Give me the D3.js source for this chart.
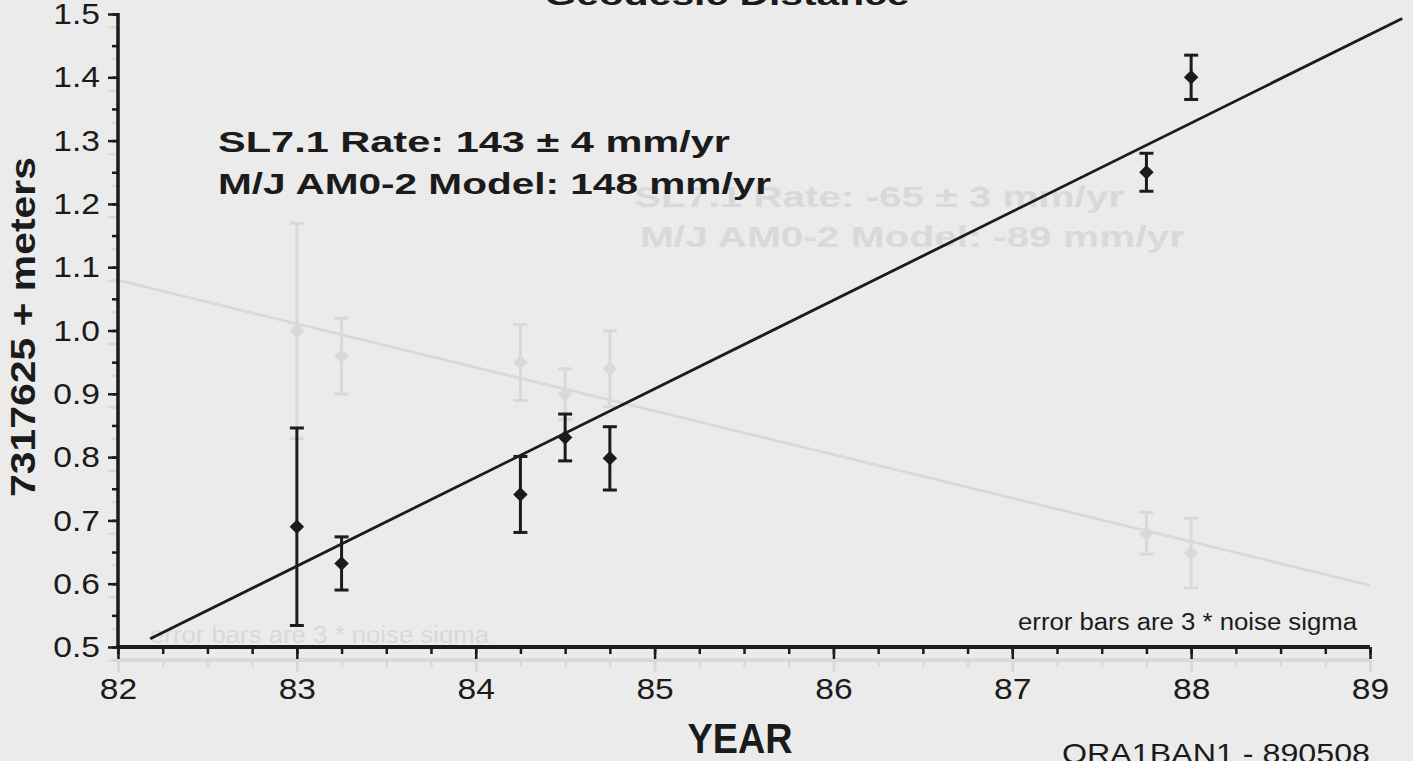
<!DOCTYPE html>
<html lang="en">
<head>
<meta charset="UTF-8">
<title>Geodesic Distance</title>
<script src="https://d3js.org/d3.v7.min.js"></script>
<style>
  body { margin: 0; background: #ebebeb; }
  svg { display: block; font-family: "Liberation Sans", Arial, Helvetica, sans-serif; }
</style>
</head>
<body>
<svg id="chart" width="1413" height="761"></svg>
<script>
// SL7.1 baseline length, observations
const years = [83.0, 83.25, 84.25, 84.5, 84.75, 87.75, 88.0];
const lengths = [0.690, 0.632, 0.741, 0.831, 0.798, 1.250, 1.400];
const errors = [0.156, 0.042, 0.060, 0.037, 0.050, 0.030, 0.035];

// fitted rate line
const fitYears = [82.18, 89.18];
const fitLengths = [0.513, 1.493];

// faint show-through of the chart on the next page
const ghostYears = [83.0, 83.25, 84.25, 84.5, 84.75, 87.75, 88.0];
const ghostLengths = [1.02, 0.98, 0.97, 0.92, 0.96, 0.700, 0.669];
const ghostErrors = [0.17, 0.06, 0.06, 0.04, 0.06, 0.033, 0.055];
const ghostFitYears = [82.0, 89.0];
const ghostFitLengths = [1.10, 0.618];

// axes
const xTicks = [82, 83, 84, 85, 86, 87, 88, 89];
const yTicks = [0.5, 0.6, 0.7, 0.8, 0.9, 1.0, 1.1, 1.2, 1.3, 1.4, 1.5];
const xMinor = d3.range(82, 89.001, 0.25);
const yMinor = d3.range(0.5, 1.5001, 0.05);

const ink = "#1b1b1b";
const ghost = "#d9d9d9";

const svg = d3.select("#chart");

const x = d3.scaleLinear().domain([82, 89]).range([118, 1370]);
const y = d3.scaleLinear().domain([0.5, 1.5]).range([647, 14]);

function label(parent, str, o) {
    let tr = `translate(${o.x},${o.y})`;
    if (o.rotate) tr += ` rotate(${o.rotate})`;
    const t = parent.append("text")
        .attr("transform", tr)
        .attr("text-anchor", o.anchor || "start")
        .attr("font-size", o.size)
        .attr("font-weight", o.bold ? "bold" : "normal")
        .attr("fill", o.fill || ink)
        .text(str);
    if (o.len) t.attr("textLength", o.len).attr("lengthAdjust", "spacingAndGlyphs");
    return t;
}

function drawAxes(g, color, withLabels) {
    // minor ticks
    g.append("g")
        .attr("transform", `translate(0,${y(0.5)})`)
        .call(d3.axisBottom(x).tickValues(xMinor).tickSize(7).tickSizeOuter(0).tickFormat(""))
        .call(a => a.select(".domain").remove());
    g.append("g")
        .attr("transform", `translate(${x(82)},0)`)
        .call(d3.axisLeft(y).tickValues(yMinor).tickSize(6).tickSizeOuter(0).tickFormat(""))
        .call(a => a.select(".domain").remove());

    // major ticks + labels
    const xa = g.append("g")
        .attr("transform", `translate(0,${y(0.5)})`)
        .call(d3.axisBottom(x).tickValues(xTicks).tickSize(12).tickSizeOuter(0).tickFormat(d3.format("d")));
    xa.select(".domain").remove();
    xa.selectAll("text")
        .attr("y", 31).attr("dy", "0.71em")
        .attr("font-size", 30)
        .attr("font-family", "'Liberation Sans', Arial, sans-serif")
        .attr("transform", "scale(1.12,1)");

    const ya = g.append("g")
        .attr("transform", `translate(${x(82)},0)`)
        .call(d3.axisLeft(y).tickValues(yTicks).tickSize(10).tickSizeOuter(0).tickFormat(d3.format(".1f")));
    ya.select(".domain").remove();
    ya.selectAll("text")
        .attr("x", -18 / 1.12)
        .attr("font-size", 30)
        .attr("font-family", "'Liberation Sans', Arial, sans-serif")
        .attr("transform", "scale(1.12,1)");

    g.selectAll(".tick line").attr("stroke", color).attr("stroke-width", 2.5);
    if (withLabels) g.selectAll(".tick text").attr("fill", color);
    else g.selectAll(".tick text").remove();

    // axis lines
    g.append("line")
        .attr("x1", x(82)).attr("x2", x(89))
        .attr("y1", y(0.5)).attr("y2", y(0.5))
        .attr("stroke", color).attr("stroke-width", 4);
    g.append("line")
        .attr("x1", x(82)).attr("x2", x(82))
        .attr("y1", y(1.5) - 1).attr("y2", y(0.5) + 2)
        .attr("stroke", color).attr("stroke-width", 3.5);
}

function drawSeries(g, xs, vs, es, fx, fv, color) {
    const pts = xs.map((d, i) => ({year: d, v: vs[i], e: es[i]}));

    g.append("path")
        .datum(fx.map((d, i) => [d, fv[i]]))
        .attr("fill", "none")
        .attr("stroke", color)
        .attr("stroke-width", 2.8)
        .attr("d", d3.line().x(d => x(d[0])).y(d => y(d[1])));

    const bar = g.selectAll(".err")
        .data(pts)
        .enter().append("g")
        .attr("class", "err")
        .attr("stroke", color)
        .attr("stroke-width", 3);
    bar.append("line")
        .attr("x1", d => x(d.year)).attr("x2", d => x(d.year))
        .attr("y1", d => y(d.v + d.e)).attr("y2", d => y(d.v - d.e));
    bar.append("line")
        .attr("x1", d => x(d.year) - 7).attr("x2", d => x(d.year) + 7)
        .attr("y1", d => y(d.v + d.e)).attr("y2", d => y(d.v + d.e));
    bar.append("line")
        .attr("x1", d => x(d.year) - 7).attr("x2", d => x(d.year) + 7)
        .attr("y1", d => y(d.v - d.e)).attr("y2", d => y(d.v - d.e));

    g.selectAll(".pt")
        .data(pts)
        .enter().append("path")
        .attr("class", "pt")
        .attr("d", d3.symbol(d3.symbolSquare, 105))
        .attr("fill", color)
        .attr("transform", d => `translate(${x(d.year)},${y(d.v)}) rotate(45)`);
}

// ghost chart from the facing page, offset a little downwards
const gg = svg.append("g").attr("transform", "translate(0,13)");
drawAxes(gg, ghost, false);
drawSeries(gg, ghostYears, ghostLengths, ghostErrors, ghostFitYears, ghostFitLengths, ghost);
label(svg, "SL7.1 Rate: -65 \u00b1 3 mm/yr", {x: 1124, y: 207, size: 30, bold: true, anchor: "end", len: 490, fill: ghost});
label(svg, "M/J AM0-2 Model: -89 mm/yr", {x: 640, y: 247, size: 30, bold: true, len: 545, fill: ghost});
label(svg, "error bars are 3 * noise sigma", {x: 150, y: 643, size: 23, len: 339, fill: ghost});

// main chart
const g = svg.append("g");
drawAxes(g, ink, true);
drawSeries(g, years, lengths, errors, fitYears, fitLengths, ink);

label(svg, "Geodesic  Distance", {x: 727, y: 5, size: 30, bold: true, anchor: "middle", len: 365});
label(svg, "SL7.1 Rate: 143 \u00b1 4 mm/yr", {x: 218, y: 152, size: 30, bold: true, len: 512});
label(svg, "M/J AM0-2 Model: 148 mm/yr", {x: 218, y: 194, size: 30, bold: true, len: 553});
label(svg, "error bars are 3 * noise sigma", {x: 1018, y: 630, size: 23, len: 339});
label(svg, "YEAR", {x: 740, y: 753, size: 43, bold: true, anchor: "middle", len: 105});
label(svg, "QRA1BAN1 - 890508", {x: 1062, y: 763, size: 28, len: 308});
label(svg, "7317625  +  meters", {x: 35, y: 327, size: 35, bold: true, anchor: "middle", rotate: -90, len: 340});
</script>
</body>
</html>
